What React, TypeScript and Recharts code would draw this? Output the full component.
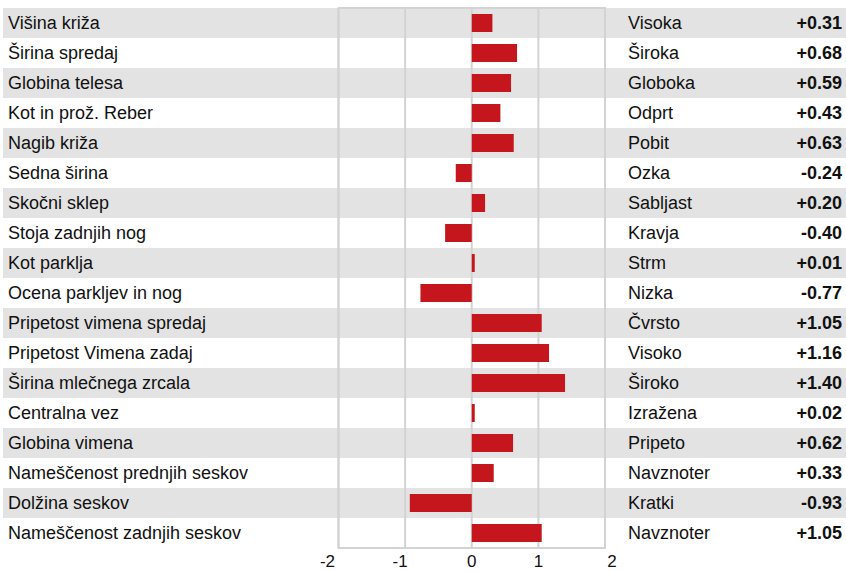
import React from 'react';
import { BarChart, Bar, XAxis, YAxis, CartesianGrid, ReferenceArea } from 'recharts';

const traits = [
  'Višina križa',
  'Širina spredaj',
  'Globina telesa',
  'Kot in prož. Reber',
  'Nagib križa',
  'Sedna širina',
  'Skočni sklep',
  'Stoja zadnjih nog',
  'Kot parklja',
  'Ocena parkljev in nog',
  'Pripetost vimena spredaj',
  'Pripetost Vimena zadaj',
  'Širina mlečnega zrcala',
  'Centralna vez',
  'Globina vimena',
  'Nameščenost prednjih seskov',
  'Dolžina seskov',
  'Nameščenost zadnjih seskov',
];

const poles = [
  'Visoka',
  'Široka',
  'Globoka',
  'Odprt',
  'Pobit',
  'Ozka',
  'Sabljast',
  'Kravja',
  'Strm',
  'Nizka',
  'Čvrsto',
  'Visoko',
  'Široko',
  'Izražena',
  'Pripeto',
  'Navznoter',
  'Kratki',
  'Navznoter',
];

const values = [0.31, 0.68, 0.59, 0.43, 0.63, -0.24, 0.2, -0.4, 0.01, -0.77, 1.05, 1.16, 1.4, 0.02, 0.62, 0.33, -0.93, 1.05];

const xTicks = [-2, -1, 0, 1, 2];

const data = traits.map((name, i) => ({ name, pole: poles[i], value: values[i], idx: i }));

const W = 846;
const H = 571;
const TOP = 8;
const XAXIS_H = 23;
const LEFT_W = 338.5;
const RIGHT_W = 241;
const ROW_H = (H - TOP - XAXIS_H) / traits.length;
const FONT = '"Liberation Sans", Arial, Helvetica, sans-serif';
const FS = 18;
const TICK_FS = 17;
const STRIPE = '#e3e3e3';
const GRID = '#d3d3d3';
const BAR = '#c4161c';
const TEXT = '#111111';

const fmt = (v: number) => (v >= 0 ? '+' : '') + v.toFixed(2);

const StripeTick = (props: any) => {
  const { y, index } = props;
  if (index % 2 !== 0) return <g />;
  return <rect x={3} y={y - ROW_H / 2} width={W - 3} height={ROW_H} fill={STRIPE} />;
};

const LeftTick = (props: any) => {
  const { y, payload } = props;
  return (
    <text x={8} y={y} dy="0.355em" fontSize={FS} fontFamily={FONT} fill={TEXT} textAnchor="start">
      {payload.value}
    </text>
  );
};

const RightTick = (props: any) => {
  const { y, index } = props;
  const d = data[index];
  return (
    <g>
      <text x={628} y={y} dy="0.355em" fontSize={FS} fontFamily={FONT} fill={TEXT} textAnchor="start">
        {d.pole}
      </text>
      <text x={842} y={y} dy="0.355em" fontSize={FS} fontFamily={FONT} fill={TEXT} fontWeight="bold" textAnchor="end">
        {fmt(d.value)}
      </text>
    </g>
  );
};

const XTick = (props: any) => {
  const { x, y, payload } = props;
  const v = payload.value as number;
  const dx = v === -2 ? -11 : v === 2 ? 7 : v < 0 ? -5 : 0;
  return (
    <text x={x + dx} y={y} dy={11} fontSize={TICK_FS} fontFamily={FONT} fill={TEXT} textAnchor="middle">
      {v}
    </text>
  );
};

const layerStyle: React.CSSProperties = { position: 'absolute', left: 0, top: 0 };
const chartMargin = { top: TOP, right: 0, bottom: 0, left: 0 };

export default function App() {
  return (
    <div style={{ position: 'absolute', left: 0, top: 0, width: W, height: H, background: '#fff' }}>
      <div style={layerStyle}>
        <BarChart width={W} height={H} data={data} layout="vertical" margin={chartMargin}>
          <YAxis
            type="category"
            dataKey="name"
            width={LEFT_W}
            axisLine={false}
            tickLine={false}
            tick={<StripeTick />}
            interval={0}
          />
          <YAxis
            yAxisId="right"
            orientation="right"
            type="category"
            dataKey="name"
            width={RIGHT_W}
            axisLine={false}
            tickLine={false}
            tick={false}
          />
          <XAxis
            type="number"
            domain={[-2, 2]}
            ticks={xTicks}
            height={XAXIS_H}
            axisLine={false}
            tickLine={false}
            tick={false}
          />
        </BarChart>
      </div>
      <div style={layerStyle}>
        <BarChart width={W} height={H} data={data} layout="vertical" margin={chartMargin}>
          <CartesianGrid yAxisId="left" horizontal={false} stroke={GRID} strokeWidth={2} />
          <ReferenceArea
            yAxisId="left"
            x1={-2}
            x2={2}
            y1={traits[0]}
            y2={traits[traits.length - 1]}
            fill="none"
            stroke={GRID}
            strokeWidth={2}
          />
          <YAxis
            yAxisId="left"
            type="category"
            dataKey="name"
            width={LEFT_W}
            axisLine={false}
            tickLine={false}
            tick={<LeftTick />}
            interval={0}
          />
          <YAxis
            yAxisId="right"
            orientation="right"
            type="category"
            dataKey="name"
            width={RIGHT_W}
            axisLine={false}
            tickLine={false}
            tick={<RightTick />}
            interval={0}
          />
          <XAxis
            type="number"
            domain={[-2, 2]}
            ticks={xTicks}
            height={XAXIS_H}
            axisLine={false}
            tickLine={false}
            tick={<XTick />}
            interval={0}
          />
          <Bar
            yAxisId="left"
            dataKey="value"
            fill={BAR}
            barSize={18}
            minPointSize={3}
            isAnimationActive={false}
          />
        </BarChart>
      </div>
    </div>
  );
}
